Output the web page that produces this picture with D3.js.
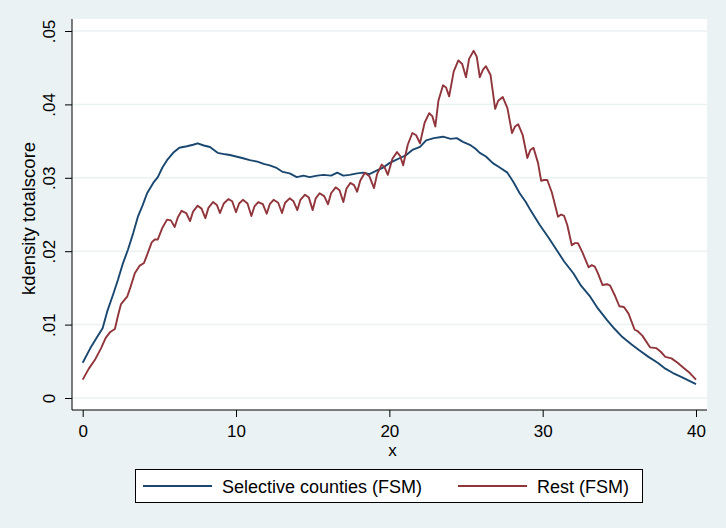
<!DOCTYPE html>
<html>
<head>
<meta charset="utf-8">
<script src="https://cdn.jsdelivr.net/npm/d3@7"></script>
<style>
  html, body { margin: 0; padding: 0; background: #eaf2f3; }
  svg { display: block; font-family: "Liberation Sans", Arial, sans-serif; }
</style>
</head>
<body>
<div id="chart"></div>
<script>
// series (x = score, y = density)
const selX = [0, 0.5, 1.0, 1.3, 1.6, 2.0, 2.3, 2.6, 2.95, 3.3, 3.6, 3.9, 4.2, 4.6, 4.9, 5.2, 5.5, 5.9, 6.3, 6.8,
  7.2, 7.5, 7.9, 8.3, 8.8, 9.3, 9.6, 10.0, 10.4, 10.9, 11.4, 11.8, 12.2, 12.6, 13.05, 13.5, 13.96, 14.4, 14.8, 15.3,
  15.7, 16.2, 16.6, 17.0, 17.4, 17.9, 18.3, 18.7, 19.2, 19.6, 20.0, 20.4, 20.7, 21.1, 21.5, 22.0, 22.4, 22.9, 23.5, 24.0,
  24.4, 24.8, 25.25, 25.6, 25.9, 26.3, 26.75, 27.2, 27.7, 28.1, 28.5, 28.9, 29.2, 29.8, 30.4, 30.9, 31.4, 32.0, 32.5, 33.1,
  33.6, 34.2, 34.7, 35.2, 35.8, 36.3, 36.9, 37.5, 38.0, 38.5, 39.0, 39.4, 40.0];
const selY = [0.0048, 0.0068, 0.0085, 0.0095, 0.0118, 0.0142, 0.0161, 0.0182, 0.0202, 0.0225, 0.0247, 0.0262, 0.0279, 0.0293, 0.0301, 0.0314, 0.0324, 0.0334, 0.0341, 0.0343,
  0.0345, 0.0347, 0.0344, 0.0342, 0.0334, 0.0332, 0.0331, 0.0329, 0.0327, 0.0324, 0.0322, 0.0319, 0.0317, 0.0314, 0.0308, 0.0306, 0.0301, 0.0303, 0.0301, 0.0303,
  0.0304, 0.0303, 0.0307, 0.0303, 0.0304, 0.0306, 0.0307, 0.0305, 0.0310, 0.0314, 0.0320, 0.0324, 0.0327, 0.0331, 0.0338, 0.0342, 0.0351, 0.0354, 0.0356, 0.0353,
  0.0354, 0.0349, 0.0345, 0.0340, 0.0334, 0.0329, 0.0320, 0.0314, 0.0307, 0.0294, 0.0279, 0.0267, 0.0256, 0.0236, 0.0218, 0.0202, 0.0186, 0.0170, 0.0153, 0.0138,
  0.0122, 0.0106, 0.0094, 0.0083, 0.0073, 0.0065, 0.0056, 0.0048, 0.0040, 0.0034, 0.0029, 0.0025, 0.0019];

const restX = [0, 0.4, 0.8, 1.2, 1.5, 1.8, 2.1, 2.3, 2.5, 2.9, 3.1, 3.4, 3.7, 4.0, 4.2, 4.5, 4.7, 4.9, 5.2, 5.5,
  5.75, 6.0, 6.2, 6.45, 6.75, 7.0, 7.2, 7.5, 7.75, 8.0, 8.2, 8.5, 8.75, 8.95, 9.2, 9.5, 9.75, 10.0, 10.2, 10.45,
  10.75, 11.0, 11.2, 11.45, 11.75, 12.0, 12.2, 12.45, 12.75, 13.0, 13.2, 13.5, 13.75, 14.0, 14.2, 14.5, 14.75, 15.0, 15.2, 15.45,
  15.75, 16.0, 16.2, 16.5, 16.75, 17.0, 17.2, 17.45, 17.7, 17.9, 18.1, 18.4, 18.7, 19.0, 19.2, 19.5, 19.7, 19.9, 20.2, 20.5,
  20.7, 20.9, 21.2, 21.5, 21.75, 22.0, 22.3, 22.6, 22.8, 23.0, 23.2, 23.5, 23.7, 23.9, 24.2, 24.5, 24.75, 25.0, 25.2, 25.5,
  25.7, 25.9, 26.1, 26.3, 26.6, 26.9, 27.1, 27.4, 27.7, 28.0, 28.2, 28.4, 28.7, 29.0, 29.2, 29.4, 29.7, 29.9, 30.1, 30.3,
  30.6, 31.0, 31.2, 31.4, 31.6, 31.9, 32.1, 32.3, 32.6, 33.0, 33.2, 33.4, 33.6, 33.9, 34.2, 34.4, 34.7, 35.0, 35.3, 35.6,
  36.0, 36.2, 36.5, 37.0, 37.4, 37.7, 38.0, 38.4, 38.8, 39.2, 39.6, 40.0];
const restY = [0.0025, 0.0040, 0.0052, 0.0068, 0.0082, 0.0090, 0.0094, 0.0112, 0.0128, 0.0138, 0.0150, 0.0170, 0.0180, 0.0184, 0.0195, 0.0212, 0.0216, 0.0216, 0.0232, 0.0243,
  0.0242, 0.0233, 0.0246, 0.0255, 0.0252, 0.0241, 0.0254, 0.0262, 0.0258, 0.0245, 0.0259, 0.0267, 0.0263, 0.0252, 0.0265, 0.0271, 0.0268, 0.0253, 0.0265, 0.0270,
  0.0265, 0.0248, 0.0261, 0.0267, 0.0264, 0.0251, 0.0264, 0.0270, 0.0266, 0.0252, 0.0266, 0.0272, 0.0268, 0.0256, 0.0270, 0.0277, 0.0273, 0.0256, 0.0272, 0.0279,
  0.0275, 0.0264, 0.0279, 0.0287, 0.0283, 0.0267, 0.0285, 0.0293, 0.0290, 0.0281, 0.0296, 0.0307, 0.0302, 0.0286, 0.0305, 0.0318, 0.0314, 0.0304, 0.0326, 0.0335,
  0.0330, 0.0317, 0.0345, 0.0361, 0.0358, 0.0347, 0.0375, 0.0388, 0.0384, 0.0370, 0.0405, 0.0426, 0.0423, 0.0411, 0.0445, 0.0460, 0.0455, 0.0437, 0.0462, 0.0473,
  0.0465, 0.0437, 0.0447, 0.0452, 0.0440, 0.0394, 0.0405, 0.0410, 0.0395, 0.0361, 0.0370, 0.0373, 0.0358, 0.0327, 0.0338, 0.0341, 0.0320, 0.0296, 0.0297, 0.0297,
  0.0280, 0.0247, 0.0250, 0.0248, 0.0236, 0.0208, 0.0211, 0.0211, 0.0198, 0.0178, 0.0181, 0.0179, 0.0170, 0.0154, 0.0155, 0.0153, 0.0140, 0.0125, 0.0124, 0.0115,
  0.0093, 0.0091, 0.0085, 0.0069, 0.0068, 0.0063, 0.0056, 0.0054, 0.0048, 0.0041, 0.0034, 0.0025];

const xTicks = [0, 10, 20, 30, 40];
const yTicks = [0, 0.01, 0.02, 0.03, 0.04, 0.05];
const seriesNames = ["Selective counties (FSM)", "Rest (FSM)"];
const seriesColors = ["#1a476f", "#90353b"];

const width = 726, height = 528;
// plot region box (white area)
const box = {left: 72, right: 707, top: 19, bottom: 410};

const svg = d3.select("#chart").append("svg")
  .attr("width", width)
  .attr("height", height);

svg.append("rect")
  .attr("width", width).attr("height", height)
  .attr("fill", "#eaf2f3");

svg.append("rect")
  .attr("x", box.left).attr("y", box.top)
  .attr("width", box.right - box.left).attr("height", box.bottom - box.top)
  .attr("fill", "#ffffff");

const x = d3.scaleLinear().domain([0, 40]).range([82.7, 696]);
const y = d3.scaleLinear().domain([0, 0.05]).range([398, 31]);

// gridlines
svg.append("g")
  .selectAll("line")
  .data(yTicks)
  .join("line")
  .attr("x1", box.left).attr("x2", box.right)
  .attr("y1", d => y(d)).attr("y2", d => y(d))
  .attr("stroke", "#eaf2f3")
  .attr("stroke-width", 1.5);

// density lines
const line = d3.line()
  .x(d => x(d[0]))
  .y(d => y(d[1]));

const sel = selX.map((v, i) => [v, selY[i]]);
const rest = restX.map((v, i) => [v, restY[i]]);

[sel, rest].forEach((s, i) => {
  svg.append("path")
    .datum(s)
    .attr("d", line)
    .attr("fill", "none")
    .attr("stroke", seriesColors[i])
    .attr("stroke-width", 1.9)
    .attr("stroke-linejoin", "round");
});

// y axis
const yAxis = svg.append("g")
  .attr("transform", `translate(${box.left},0)`)
  .call(d3.axisLeft(y).tickValues(yTicks).tickSize(7).tickPadding(0)
    .tickFormat(d => d === 0 ? "0" : d3.format(".2f")(d).replace(/^0/, "")));
yAxis.select(".domain").attr("d", `M0,${box.top}V${box.bottom}`).attr("stroke", "#000");
yAxis.selectAll(".tick line").attr("stroke", "#000");
yAxis.selectAll(".tick text")
  .attr("transform", "rotate(-90)")
  .attr("x", 0).attr("y", -17)
  .attr("dy", 0)
  .attr("text-anchor", "middle")
  .attr("font-size", 17)
  .attr("font-family", "Liberation Sans, Arial, sans-serif")
  .attr("fill", "#000");

// x axis
const xAxis = svg.append("g")
  .attr("transform", `translate(0,${box.bottom})`)
  .call(d3.axisBottom(x).tickValues(xTicks).tickSize(7).tickPadding(0));
xAxis.select(".domain").attr("d", `M${box.left},0H${box.right}`).attr("stroke", "#000");
xAxis.selectAll(".tick line").attr("stroke", "#000");
xAxis.selectAll(".tick text")
  .attr("y", 27).attr("dy", 0)
  .attr("font-size", 17)
  .attr("font-family", "Liberation Sans, Arial, sans-serif")
  .attr("fill", "#000");

// axis titles
svg.append("text")
  .attr("x", (box.left + box.right) / 2 + 3)
  .attr("y", 456)
  .attr("text-anchor", "middle")
  .attr("font-size", 17)
  .text("x");

svg.append("text")
  .attr("transform", `translate(35,${(box.top + box.bottom) / 2 + 4}) rotate(-90)`)
  .attr("text-anchor", "middle")
  .attr("font-size", 18.5)
  .text("kdensity totalscore");

// legend
const legend = svg.append("g");
legend.append("rect")
  .attr("x", 135.5).attr("y", 469.5)
  .attr("width", 507).attr("height", 33)
  .attr("fill", "#fff")
  .attr("stroke", "#000");

const legendX = [143, 458];
seriesNames.forEach((name, i) => {
  legend.append("line")
    .attr("x1", legendX[i]).attr("x2", legendX[i] + 69)
    .attr("y1", 486).attr("y2", 486)
    .attr("stroke", seriesColors[i])
    .attr("stroke-width", 1.9);
  legend.append("text")
    .attr("x", legendX[i] + 79)
    .attr("y", 492.5)
    .attr("font-size", 18)
    .text(name);
});
</script>
</body>
</html>
